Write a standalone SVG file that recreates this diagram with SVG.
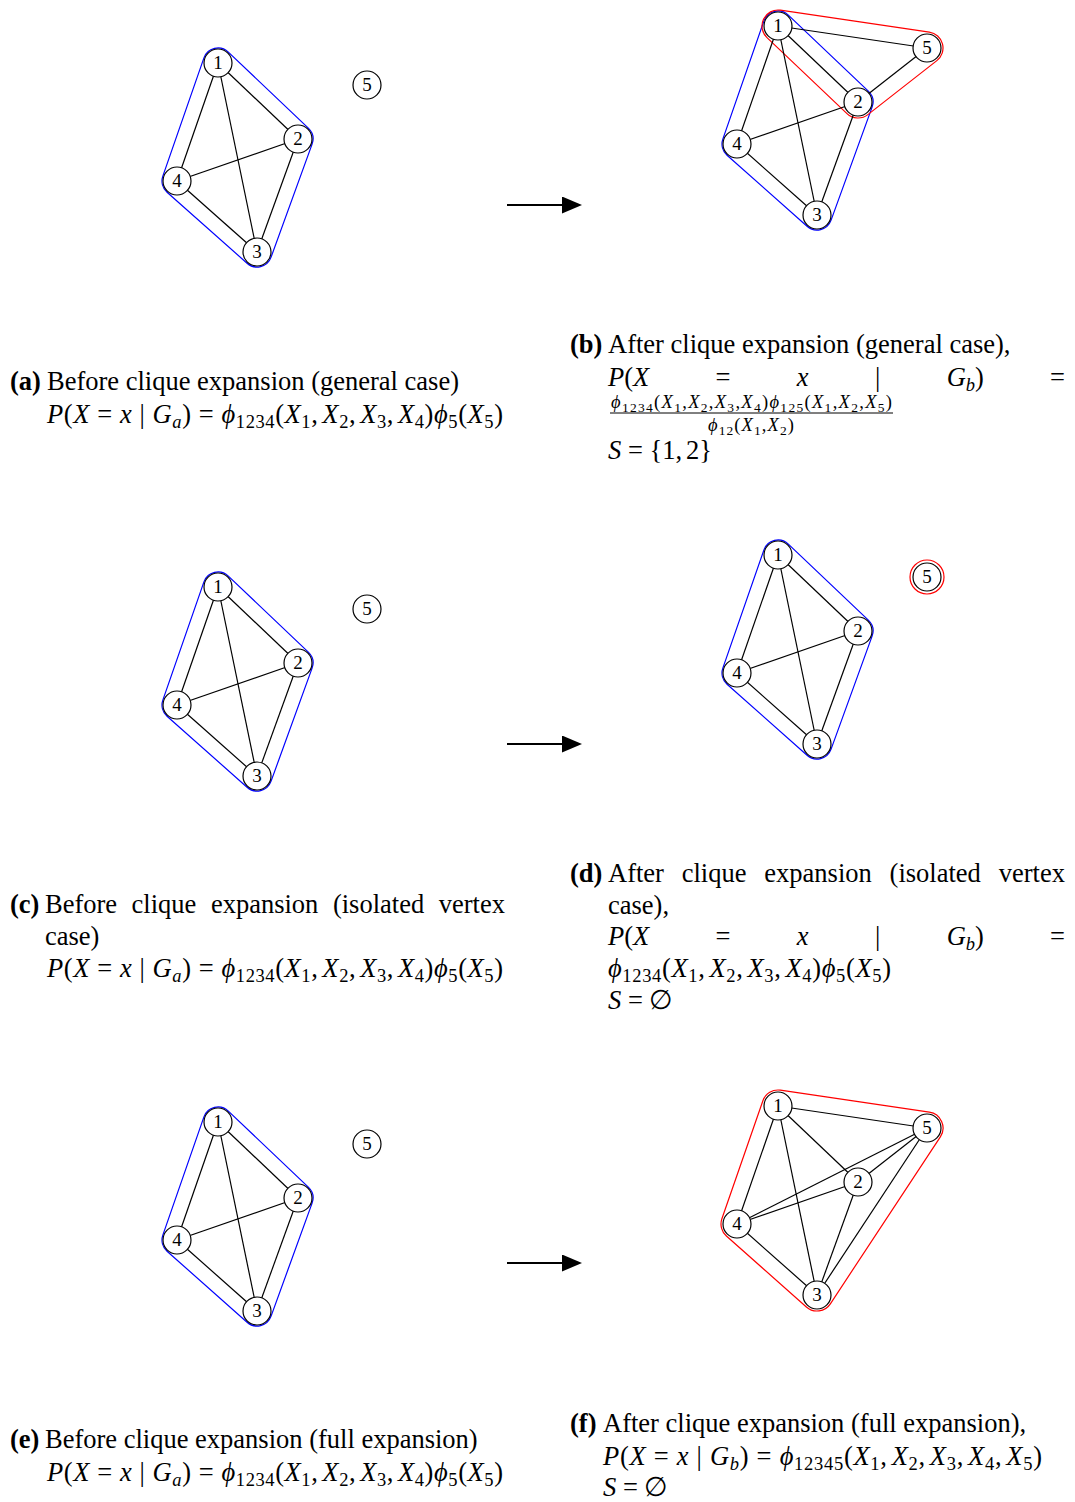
<svg xmlns="http://www.w3.org/2000/svg" width="1075" height="1502" viewBox="0 0 1075 1502">
<style>
.t{font-family:"Liberation Serif","DejaVu Serif",serif;font-size:26.5px;fill:#000}
.f{font-family:"Liberation Serif","DejaVu Serif",serif;font-size:18.5px;fill:#000}
.b{font-weight:bold}
.i{font-style:italic}
.s{font-size:18.5px}
.ss{font-size:13.5px}
.e line{stroke:#000;stroke-width:1.2}
.n circle{fill:#fff;stroke:#000;stroke-width:1.2}
.n text{font-family:"Liberation Serif","DejaVu Serif",serif;font-size:19px;text-anchor:middle;fill:#000}
.hb{fill:none;stroke:#0000ff;stroke-width:1.2}
.hr{fill:none;stroke:#ff0000;stroke-width:1.2}
.ar{stroke:#000;stroke-width:2}
</style>
<defs>
<marker id="ah" markerUnits="userSpaceOnUse" markerWidth="20" markerHeight="17" refX="10" refY="8.5" orient="auto"><path d="M0,0 L20,8.5 L0,17 Z" fill="#000"/></marker>
</defs>
<rect width="1075" height="1502" fill="#fff"/>

<!-- Panel a -->
<g id="panel-a">
<path id="a-hull" class="hb" d="M228.33,52.13 L308.33,128.13 A15,15 0 0 1 312.10,144.12 L271.10,257.12 A15,15 0 0 1 247.04,263.22 L167.04,192.22 A15,15 0 0 1 162.83,176.08 L203.83,58.08 A15,15 0 0 1 228.33,52.13 Z"/>
<g id="a-edges" class="e"><line x1="218" y1="63" x2="298" y2="139"/><line x1="218" y1="63" x2="177" y2="181"/><line x1="218" y1="63" x2="257" y2="252"/><line x1="298" y1="139" x2="177" y2="181"/><line x1="298" y1="139" x2="257" y2="252"/><line x1="177" y1="181" x2="257" y2="252"/></g>
<g id="a-n1" class="n"><circle cx="218" cy="63" r="14"/><text x="218" y="69.3">1</text></g>
<g id="a-n2" class="n"><circle cx="298" cy="139" r="14"/><text x="298" y="145.3">2</text></g>
<g id="a-n3" class="n"><circle cx="257" cy="252" r="14"/><text x="257" y="258.3">3</text></g>
<g id="a-n4" class="n"><circle cx="177" cy="181" r="14"/><text x="177" y="187.3">4</text></g>
<g id="a-n5" class="n"><circle cx="367" cy="85" r="14"/><text x="367" y="91.3">5</text></g>
</g>

<!-- Panel b -->
<g id="panel-b" transform="translate(560,-37)">
<path id="b-hull-blue" class="hb" d="M228.33,52.13 L308.33,128.13 A15,15 0 0 1 312.10,144.12 L271.10,257.12 A15,15 0 0 1 247.04,263.22 L167.04,192.22 A15,15 0 0 1 162.83,176.08 L203.83,58.08 A15,15 0 0 1 228.33,52.13 Z"/>
<path id="b-hull-red" class="hr" d="M220.34,47.17 L369.34,69.17 A16,16 0 0 1 376.86,97.60 L307.86,151.60 A16,16 0 0 1 286.98,150.60 L206.98,74.60 A16,16 0 0 1 220.34,47.17 Z"/>
<g id="b-edges" class="e"><line x1="218" y1="63" x2="298" y2="139"/><line x1="218" y1="63" x2="177" y2="181"/><line x1="218" y1="63" x2="257" y2="252"/><line x1="298" y1="139" x2="177" y2="181"/><line x1="298" y1="139" x2="257" y2="252"/><line x1="177" y1="181" x2="257" y2="252"/><line x1="218" y1="63" x2="367" y2="85"/><line x1="298" y1="139" x2="367" y2="85"/></g>
<g id="b-n1" class="n"><circle cx="218" cy="63" r="14"/><text x="218" y="69.3">1</text></g>
<g id="b-n2" class="n"><circle cx="298" cy="139" r="14"/><text x="298" y="145.3">2</text></g>
<g id="b-n3" class="n"><circle cx="257" cy="252" r="14"/><text x="257" y="258.3">3</text></g>
<g id="b-n4" class="n"><circle cx="177" cy="181" r="14"/><text x="177" y="187.3">4</text></g>
<g id="b-n5" class="n"><circle cx="367" cy="85" r="14"/><text x="367" y="91.3">5</text></g>
</g>

<!-- Panel c -->
<g id="panel-c" transform="translate(0,524)">
<path id="c-hull" class="hb" d="M228.33,52.13 L308.33,128.13 A15,15 0 0 1 312.10,144.12 L271.10,257.12 A15,15 0 0 1 247.04,263.22 L167.04,192.22 A15,15 0 0 1 162.83,176.08 L203.83,58.08 A15,15 0 0 1 228.33,52.13 Z"/>
<g id="c-edges" class="e"><line x1="218" y1="63" x2="298" y2="139"/><line x1="218" y1="63" x2="177" y2="181"/><line x1="218" y1="63" x2="257" y2="252"/><line x1="298" y1="139" x2="177" y2="181"/><line x1="298" y1="139" x2="257" y2="252"/><line x1="177" y1="181" x2="257" y2="252"/></g>
<g id="c-n1" class="n"><circle cx="218" cy="63" r="14"/><text x="218" y="69.3">1</text></g>
<g id="c-n2" class="n"><circle cx="298" cy="139" r="14"/><text x="298" y="145.3">2</text></g>
<g id="c-n3" class="n"><circle cx="257" cy="252" r="14"/><text x="257" y="258.3">3</text></g>
<g id="c-n4" class="n"><circle cx="177" cy="181" r="14"/><text x="177" y="187.3">4</text></g>
<g id="c-n5" class="n"><circle cx="367" cy="85" r="14"/><text x="367" y="91.3">5</text></g>
</g>

<!-- Panel d -->
<g id="panel-d" transform="translate(560,492)">
<path id="d-hull-blue" class="hb" d="M228.33,52.13 L308.33,128.13 A15,15 0 0 1 312.10,144.12 L271.10,257.12 A15,15 0 0 1 247.04,263.22 L167.04,192.22 A15,15 0 0 1 162.83,176.08 L203.83,58.08 A15,15 0 0 1 228.33,52.13 Z"/>
<circle id="d-hull-red" class="hr" cx="367" cy="85" r="17"/>
<g id="d-edges" class="e"><line x1="218" y1="63" x2="298" y2="139"/><line x1="218" y1="63" x2="177" y2="181"/><line x1="218" y1="63" x2="257" y2="252"/><line x1="298" y1="139" x2="177" y2="181"/><line x1="298" y1="139" x2="257" y2="252"/><line x1="177" y1="181" x2="257" y2="252"/></g>
<g id="d-n1" class="n"><circle cx="218" cy="63" r="14"/><text x="218" y="69.3">1</text></g>
<g id="d-n2" class="n"><circle cx="298" cy="139" r="14"/><text x="298" y="145.3">2</text></g>
<g id="d-n3" class="n"><circle cx="257" cy="252" r="14"/><text x="257" y="258.3">3</text></g>
<g id="d-n4" class="n"><circle cx="177" cy="181" r="14"/><text x="177" y="187.3">4</text></g>
<g id="d-n5" class="n"><circle cx="367" cy="85" r="14"/><text x="367" y="91.3">5</text></g>
</g>

<!-- Panel e -->
<g id="panel-e" transform="translate(0,1059)">
<path id="e-hull" class="hb" d="M228.33,52.13 L308.33,128.13 A15,15 0 0 1 312.10,144.12 L271.10,257.12 A15,15 0 0 1 247.04,263.22 L167.04,192.22 A15,15 0 0 1 162.83,176.08 L203.83,58.08 A15,15 0 0 1 228.33,52.13 Z"/>
<g id="e-edges" class="e"><line x1="218" y1="63" x2="298" y2="139"/><line x1="218" y1="63" x2="177" y2="181"/><line x1="218" y1="63" x2="257" y2="252"/><line x1="298" y1="139" x2="177" y2="181"/><line x1="298" y1="139" x2="257" y2="252"/><line x1="177" y1="181" x2="257" y2="252"/></g>
<g id="e-n1" class="n"><circle cx="218" cy="63" r="14"/><text x="218" y="69.3">1</text></g>
<g id="e-n2" class="n"><circle cx="298" cy="139" r="14"/><text x="298" y="145.3">2</text></g>
<g id="e-n3" class="n"><circle cx="257" cy="252" r="14"/><text x="257" y="258.3">3</text></g>
<g id="e-n4" class="n"><circle cx="177" cy="181" r="14"/><text x="177" y="187.3">4</text></g>
<g id="e-n5" class="n"><circle cx="367" cy="85" r="14"/><text x="367" y="91.3">5</text></g>
</g>

<!-- Panel f -->
<g id="panel-f" transform="translate(560,1043)">
<path id="f-hull" class="hr" d="M220.34,47.17 L369.34,69.17 A16,16 0 0 1 380.36,93.80 L270.36,260.80 A16,16 0 0 1 246.38,263.97 L166.38,192.97 A16,16 0 0 1 161.89,175.75 L202.89,57.75 A16,16 0 0 1 220.34,47.17 Z"/>
<g id="f-edges" class="e"><line x1="218" y1="63" x2="298" y2="139"/><line x1="218" y1="63" x2="177" y2="181"/><line x1="218" y1="63" x2="257" y2="252"/><line x1="298" y1="139" x2="177" y2="181"/><line x1="298" y1="139" x2="257" y2="252"/><line x1="177" y1="181" x2="257" y2="252"/><line x1="218" y1="63" x2="367" y2="85"/><line x1="298" y1="139" x2="367" y2="85"/><line x1="257" y1="252" x2="367" y2="85"/><line x1="177" y1="181" x2="367" y2="85"/></g>
<g id="f-n1" class="n"><circle cx="218" cy="63" r="14"/><text x="218" y="69.3">1</text></g>
<g id="f-n2" class="n"><circle cx="298" cy="139" r="14"/><text x="298" y="145.3">2</text></g>
<g id="f-n3" class="n"><circle cx="257" cy="252" r="14"/><text x="257" y="258.3">3</text></g>
<g id="f-n4" class="n"><circle cx="177" cy="181" r="14"/><text x="177" y="187.3">4</text></g>
<g id="f-n5" class="n"><circle cx="367" cy="85" r="14"/><text x="367" y="91.3">5</text></g>
</g>

<!-- Arrows -->
<g id="arrows">
<line class="ar" x1="507" y1="205" x2="572" y2="205" marker-end="url(#ah)"/>
<line class="ar" x1="507" y1="744" x2="572" y2="744" marker-end="url(#ah)"/>
<line class="ar" x1="507" y1="1263" x2="572" y2="1263" marker-end="url(#ah)"/>
</g>

<!-- Caption a -->
<g id="cap-a">
<text class="t" y="390"><tspan class="b" x="10">(a)</tspan><tspan x="47">Before clique expansion (general case)</tspan></text>
<text class="t" x="47" y="423" textLength="456"><tspan class="i">P</tspan>(<tspan class="i">X</tspan> = <tspan class="i">x</tspan> | <tspan class="i">G</tspan><tspan class="s i" dy="5">a</tspan><tspan dy="-5">) = </tspan><tspan class="i">ϕ</tspan><tspan class="s" dy="5">1234</tspan><tspan dy="-5">(</tspan><tspan class="i">X</tspan><tspan class="s" dy="5">1</tspan><tspan dy="-5">,</tspan><tspan class="i" dx="4">X</tspan><tspan class="s" dy="5">2</tspan><tspan dy="-5">,</tspan><tspan class="i" dx="4">X</tspan><tspan class="s" dy="5">3</tspan><tspan dy="-5">,</tspan><tspan class="i" dx="4">X</tspan><tspan class="s" dy="5">4</tspan><tspan dy="-5">)</tspan><tspan class="i">ϕ</tspan><tspan class="s" dy="5">5</tspan><tspan dy="-5">(</tspan><tspan class="i">X</tspan><tspan class="s" dy="5">5</tspan><tspan dy="-5">)</tspan></text>
</g>

<!-- Caption b -->
<g id="cap-b">
<text class="t" y="353"><tspan class="b" x="570">(b)</tspan><tspan x="608">After clique expansion (general case),</tspan></text>
<text class="t" y="386"><tspan x="608" class="i">P</tspan>(<tspan class="i">X</tspan><tspan x="715.4">=</tspan><tspan x="796.8" class="i">x</tspan><tspan x="875">|</tspan><tspan x="946.7" class="i">G</tspan><tspan class="s i" dy="5">b</tspan><tspan dy="-5">)</tspan><tspan x="1050">=</tspan></text>
<text class="f" x="611" y="408" textLength="281"><tspan class="i">ϕ</tspan><tspan class="ss" dy="3.5">1234</tspan><tspan dy="-3.5">(</tspan><tspan class="i">X</tspan><tspan class="ss" dy="3.5">1</tspan><tspan dy="-3.5">,</tspan><tspan class="i">X</tspan><tspan class="ss" dy="3.5">2</tspan><tspan dy="-3.5">,</tspan><tspan class="i">X</tspan><tspan class="ss" dy="3.5">3</tspan><tspan dy="-3.5">,</tspan><tspan class="i">X</tspan><tspan class="ss" dy="3.5">4</tspan><tspan dy="-3.5">)</tspan><tspan class="i">ϕ</tspan><tspan class="ss" dy="3.5">125</tspan><tspan dy="-3.5">(</tspan><tspan class="i">X</tspan><tspan class="ss" dy="3.5">1</tspan><tspan dy="-3.5">,</tspan><tspan class="i">X</tspan><tspan class="ss" dy="3.5">2</tspan><tspan dy="-3.5">,</tspan><tspan class="i">X</tspan><tspan class="ss" dy="3.5">5</tspan><tspan dy="-3.5">)</tspan></text>
<line x1="610" y1="413" x2="893" y2="413" stroke="#000" stroke-width="1"/>
<text class="f" x="708" y="431" textLength="86"><tspan class="i">ϕ</tspan><tspan class="ss" dy="3.5">12</tspan><tspan dy="-3.5">(</tspan><tspan class="i">X</tspan><tspan class="ss" dy="3.5">1</tspan><tspan dy="-3.5">,</tspan><tspan class="i">X</tspan><tspan class="ss" dy="3.5">2</tspan><tspan dy="-3.5">)</tspan></text>
<text class="t" x="608" y="459"><tspan class="i">S</tspan> = {1,<tspan dx="4">2}</tspan></text>
</g>

<!-- Caption c -->
<g id="cap-c">
<text class="t" y="913"><tspan class="b" x="10">(c)</tspan><tspan x="45">Before</tspan><tspan x="131.6">clique</tspan><tspan x="210.9">expansion</tspan><tspan x="332.9">(isolated</tspan><tspan x="438.7">vertex</tspan></text>
<text class="t" x="45" y="945">case)</text>
<text class="t" x="47" y="977" textLength="456"><tspan class="i">P</tspan>(<tspan class="i">X</tspan> = <tspan class="i">x</tspan> | <tspan class="i">G</tspan><tspan class="s i" dy="5">a</tspan><tspan dy="-5">) = </tspan><tspan class="i">ϕ</tspan><tspan class="s" dy="5">1234</tspan><tspan dy="-5">(</tspan><tspan class="i">X</tspan><tspan class="s" dy="5">1</tspan><tspan dy="-5">,</tspan><tspan class="i" dx="4">X</tspan><tspan class="s" dy="5">2</tspan><tspan dy="-5">,</tspan><tspan class="i" dx="4">X</tspan><tspan class="s" dy="5">3</tspan><tspan dy="-5">,</tspan><tspan class="i" dx="4">X</tspan><tspan class="s" dy="5">4</tspan><tspan dy="-5">)</tspan><tspan class="i">ϕ</tspan><tspan class="s" dy="5">5</tspan><tspan dy="-5">(</tspan><tspan class="i">X</tspan><tspan class="s" dy="5">5</tspan><tspan dy="-5">)</tspan></text>
</g>

<!-- Caption d -->
<g id="cap-d">
<text class="t" y="882"><tspan class="b" x="570">(d)</tspan><tspan x="608">After</tspan><tspan x="681.7">clique</tspan><tspan x="764.3">expansion</tspan><tspan x="889.6">(isolated</tspan><tspan x="998.7">vertex</tspan></text>
<text class="t" x="608" y="914">case),</text>
<text class="t" y="945"><tspan x="608" class="i">P</tspan>(<tspan class="i">X</tspan><tspan x="715.4">=</tspan><tspan x="796.8" class="i">x</tspan><tspan x="875">|</tspan><tspan x="946.7" class="i">G</tspan><tspan class="s i" dy="5">b</tspan><tspan dy="-5">)</tspan><tspan x="1050">=</tspan></text>
<text class="t" x="608" y="977" textLength="283"><tspan class="i">ϕ</tspan><tspan class="s" dy="5">1234</tspan><tspan dy="-5">(</tspan><tspan class="i">X</tspan><tspan class="s" dy="5">1</tspan><tspan dy="-5">,</tspan><tspan class="i" dx="4">X</tspan><tspan class="s" dy="5">2</tspan><tspan dy="-5">,</tspan><tspan class="i" dx="4">X</tspan><tspan class="s" dy="5">3</tspan><tspan dy="-5">,</tspan><tspan class="i" dx="4">X</tspan><tspan class="s" dy="5">4</tspan><tspan dy="-5">)</tspan><tspan class="i">ϕ</tspan><tspan class="s" dy="5">5</tspan><tspan dy="-5">(</tspan><tspan class="i">X</tspan><tspan class="s" dy="5">5</tspan><tspan dy="-5">)</tspan></text>
<text class="t" x="608" y="1009"><tspan class="i">S</tspan> = ∅</text>
</g>

<!-- Caption e -->
<g id="cap-e">
<text class="t" y="1448"><tspan class="b" x="10">(e)</tspan><tspan x="45">Before clique expansion (full expansion)</tspan></text>
<text class="t" x="47" y="1481" textLength="456"><tspan class="i">P</tspan>(<tspan class="i">X</tspan> = <tspan class="i">x</tspan> | <tspan class="i">G</tspan><tspan class="s i" dy="5">a</tspan><tspan dy="-5">) = </tspan><tspan class="i">ϕ</tspan><tspan class="s" dy="5">1234</tspan><tspan dy="-5">(</tspan><tspan class="i">X</tspan><tspan class="s" dy="5">1</tspan><tspan dy="-5">,</tspan><tspan class="i" dx="4">X</tspan><tspan class="s" dy="5">2</tspan><tspan dy="-5">,</tspan><tspan class="i" dx="4">X</tspan><tspan class="s" dy="5">3</tspan><tspan dy="-5">,</tspan><tspan class="i" dx="4">X</tspan><tspan class="s" dy="5">4</tspan><tspan dy="-5">)</tspan><tspan class="i">ϕ</tspan><tspan class="s" dy="5">5</tspan><tspan dy="-5">(</tspan><tspan class="i">X</tspan><tspan class="s" dy="5">5</tspan><tspan dy="-5">)</tspan></text>
</g>

<!-- Caption f -->
<g id="cap-f">
<text class="t" y="1432"><tspan class="b" x="570">(f)</tspan><tspan x="603">After clique expansion (full expansion),</tspan></text>
<text class="t" x="603" y="1465" textLength="439"><tspan class="i">P</tspan>(<tspan class="i">X</tspan> = <tspan class="i">x</tspan> | <tspan class="i">G</tspan><tspan class="s i" dy="5">b</tspan><tspan dy="-5">) = </tspan><tspan class="i">ϕ</tspan><tspan class="s" dy="5">12345</tspan><tspan dy="-5">(</tspan><tspan class="i">X</tspan><tspan class="s" dy="5">1</tspan><tspan dy="-5">,</tspan><tspan class="i" dx="4">X</tspan><tspan class="s" dy="5">2</tspan><tspan dy="-5">,</tspan><tspan class="i" dx="4">X</tspan><tspan class="s" dy="5">3</tspan><tspan dy="-5">,</tspan><tspan class="i" dx="4">X</tspan><tspan class="s" dy="5">4</tspan><tspan dy="-5">,</tspan><tspan class="i" dx="4">X</tspan><tspan class="s" dy="5">5</tspan><tspan dy="-5">)</tspan></text>
<text class="t" x="603" y="1496"><tspan class="i">S</tspan> = ∅</text>
</g>
</svg>
